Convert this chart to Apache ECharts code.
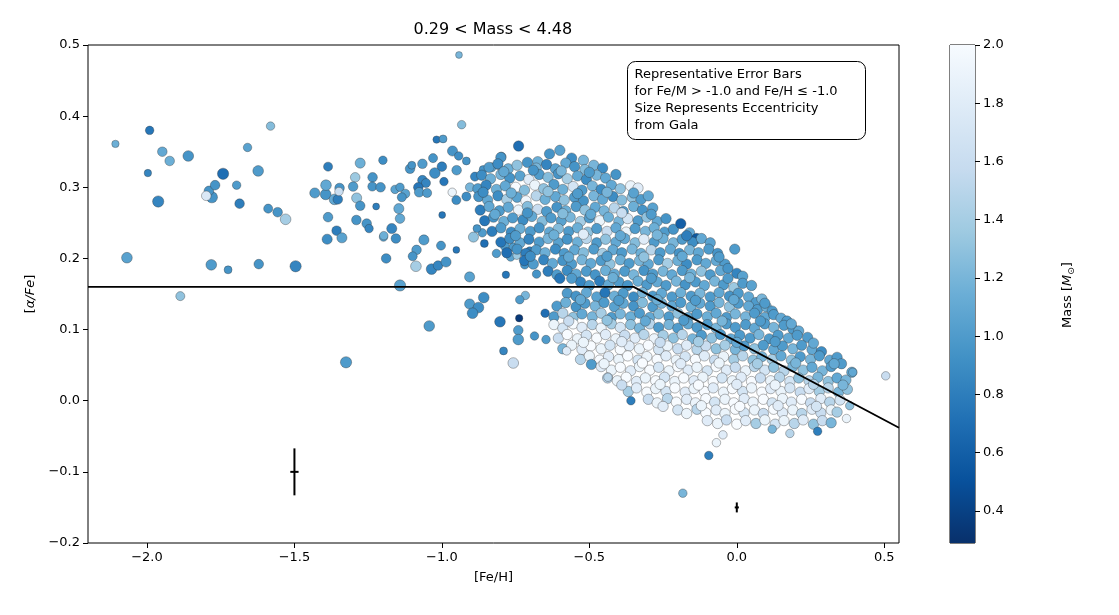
<!DOCTYPE html>
<html lang="en">
<head>
<meta charset="utf-8">
<title>[α/Fe] vs [Fe/H]</title>
<script src="https://cdn.jsdelivr.net/npm/echarts@6/dist/echarts.min.js"></script>
<style>
  html, body { margin: 0; padding: 0; background: #fff; }
  #chart { width: 1119px; height: 615px; }
</style>
</head>
<body>
<div id="chart"></div>
<script>
// [Fe/H], [alpha/Fe], mass, eccentricity  -- sparse metal-poor stars
var metalPoor = [
  [-2.107,0.361,1.15,0.4],[-1.991,0.380,0.75,0.5],[-1.948,0.350,1.1,0.6],[-1.923,0.337,1.15,0.6],
  [-1.860,0.344,0.95,0.7],[-1.997,0.320,0.85,0.4],[-1.962,0.280,0.85,0.75],[-1.780,0.286,0.95,0.75],
  [-1.790,0.295,0.95,0.6],[-1.799,0.288,1.75,0.6],[-1.769,0.303,0.95,0.6],[-1.742,0.319,0.7,0.75],
  [-1.696,0.303,1.0,0.5],[-1.686,0.277,0.8,0.6],[-1.659,0.356,1.05,0.5],[-1.581,0.386,1.25,0.5],
  [-1.623,0.323,1.0,0.7],[-1.589,0.270,0.95,0.55],[-1.557,0.265,0.95,0.6],[-1.530,0.255,1.4,0.7],
  [-2.068,0.201,1.05,0.7],[-1.782,0.191,1.0,0.7],[-1.725,0.184,0.95,0.45],[-1.621,0.192,0.95,0.6],
  [-1.496,0.189,0.85,0.75],[-1.887,0.147,1.3,0.55],
  [-1.431,0.292,1.0,0.65],[-1.394,0.290,0.95,0.7],[-1.393,0.303,1.1,0.7],[-1.386,0.329,0.8,0.55],
  [-1.364,0.283,1.1,0.7],[-1.353,0.283,0.8,0.6],[-1.347,0.299,0.95,0.6],[-1.349,0.294,1.6,0.5],
  [-1.277,0.334,1.15,0.65],[-1.294,0.314,1.35,0.6],[-1.301,0.301,1.0,0.6],[-1.289,0.285,1.3,0.65],
  [-1.277,0.274,0.95,0.6],[-1.235,0.314,0.95,0.6],[-1.236,0.301,0.95,0.55],[-1.208,0.300,0.95,0.6],
  [-1.200,0.338,0.9,0.5],[-1.223,0.273,0.8,0.35],[-1.386,0.258,1.0,0.6],[-1.290,0.254,0.95,0.6],
  [-1.255,0.249,0.95,0.6],[-1.247,0.242,0.85,0.5],[-1.357,0.239,0.8,0.6],[-1.389,0.227,0.9,0.65],
  [-1.339,0.229,1.05,0.65],[-1.198,0.230,1.05,0.5],[-1.189,0.200,0.9,0.6],
  [-0.933,0.388,1.25,0.5],[-1.018,0.367,0.75,0.4],[-0.996,0.368,1.0,0.45],[-0.739,0.358,0.8,0.45],
  [-1.108,0.326,0.95,0.6],[-1.102,0.331,0.95,0.45],[-1.066,0.333,1.0,0.6],[-1.030,0.341,0.95,0.55],
  [-1.000,0.329,0.8,0.6],[-0.964,0.351,0.95,0.65],[-0.943,0.344,0.9,0.5],[-0.917,0.337,0.95,0.45],
  [-1.024,0.320,0.9,0.7],[-0.950,0.324,1.0,0.6],[-0.993,0.308,0.75,0.5],[-1.066,0.310,0.85,0.6],
  [-1.054,0.306,0.85,0.55],[-1.080,0.300,0.75,0.6],[-1.077,0.293,1.0,0.6],[-1.050,0.292,1.0,0.55],
  [-1.159,0.297,1.05,0.5],[-1.142,0.300,1.0,0.5],[-1.124,0.291,1.05,0.55],[-1.136,0.286,0.95,0.55],
  [-1.146,0.270,1.1,0.65],[-1.142,0.256,1.1,0.6],[-1.170,0.242,0.85,0.65],[-1.156,0.228,0.9,0.6],
  [-1.197,0.232,1.15,0.5],[-1.142,0.162,1.05,0.75],[-1.061,0.226,1.0,0.65],[-1.086,0.212,1.0,0.6],
  [-1.099,0.203,0.95,0.55],[-1.088,0.189,1.4,0.7],[-1.035,0.185,0.85,0.7],[-1.013,0.190,0.85,0.6],
  [-0.986,0.195,0.95,0.65],[-1.003,0.218,0.95,0.55],[-0.951,0.212,0.75,0.35],[-0.999,0.261,0.75,0.35],
  [-0.965,0.293,1.9,0.5],[-0.951,0.282,0.9,0.55],[-0.917,0.287,0.9,0.55],[-0.905,0.300,1.2,0.55],
  [-0.906,0.174,1.05,0.65],[-0.888,0.315,0.85,0.55],[-0.860,0.325,0.95,0.45],[-0.798,0.343,0.9,0.55],
  [-0.831,0.328,1.1,0.55],[-0.809,0.331,1.05,0.5],[-0.893,0.230,1.3,0.65],[-0.863,0.236,1.0,0.5],
  [-0.856,0.221,0.7,0.45],[-0.881,0.242,0.95,0.45],[-0.815,0.207,1.0,0.5],[-0.786,0.217,1.0,0.55],
  [-0.758,0.216,1.0,0.5],[-0.767,0.202,1.05,0.5],[-0.746,0.204,1.35,0.45],[-0.719,0.191,0.95,0.5],
  [-0.783,0.177,0.75,0.4],[-0.679,0.178,0.95,0.5],[-0.702,0.210,0.8,0.55],
  [-0.906,0.136,1.0,0.65],[-0.876,0.131,0.9,0.7],[-0.896,0.123,0.9,0.7],[-0.858,0.145,0.9,0.7],
  [-1.043,0.105,1.0,0.7],[-0.803,0.111,0.75,0.7],[-0.738,0.116,0.35,0.4],[-0.741,0.099,1.0,0.6],
  [-0.741,0.086,1.0,0.7],[-0.791,0.070,0.85,0.45],[-0.758,0.053,1.6,0.7],[-0.686,0.091,0.95,0.5],
  [-0.717,0.148,1.2,0.5],[-0.736,0.142,1.0,0.5],[-0.650,0.123,0.7,0.5],[-0.647,0.086,1.0,0.5],
  [-0.942,0.486,1.2,0.35],[-1.325,0.054,1.0,0.75]
];

// [Fe/H], [alpha/Fe], mass -- high-alpha sequence
var upperCloud = [
  [-0.80,0.342,0.95],[-0.74,0.358,0.7],[-0.675,0.336,1.15],[-0.635,0.347,0.95],[-0.60,0.352,1.05],[-0.56,0.341,0.9],[-0.52,0.338,1.2],
  [-0.84,0.328,1.0],[-0.81,0.333,0.9],[-0.775,0.326,1.15],[-0.745,0.331,1.3],[-0.71,0.335,0.95],[-0.68,0.327,1.2],[-0.645,0.332,0.85],[-0.615,0.326,1.05],[-0.58,0.334,1.1],[-0.55,0.329,0.95],[-0.515,0.325,1.25],[-0.485,0.331,1.2],[-0.455,0.327,0.9],
  [-0.865,0.317,0.9],[-0.835,0.312,1.15],[-0.80,0.318,1.2],[-0.77,0.313,0.95],[-0.735,0.316,1.05],[-0.705,0.311,1.8],[-0.67,0.318,1.0],[-0.64,0.314,1.25],[-0.605,0.319,0.95],[-0.575,0.312,1.4],[-0.54,0.316,1.1],[-0.51,0.311,0.9],[-0.475,0.317,1.2],[-0.445,0.313,1.1],[-0.41,0.318,0.95],
  [-0.878,0.298,1.0],[-0.85,0.303,0.85],[-0.815,0.297,1.15],[-0.785,0.302,1.1],[-0.75,0.300,2.0],[-0.72,0.296,1.25],[-0.685,0.303,1.9],[-0.655,0.298,1.3],[-0.62,0.304,1.0],[-0.59,0.297,1.15],[-0.555,0.301,1.7],[-0.525,0.296,1.0],[-0.49,0.302,1.2],[-0.46,0.297,0.9],[-0.425,0.303,1.1],[-0.395,0.298,1.3],[-0.36,0.302,1.9],[-0.335,0.299,1.8],
  [-0.875,0.287,0.95],[-0.845,0.282,1.1],[-0.81,0.288,0.9],[-0.78,0.283,1.4],[-0.745,0.286,1.05],[-0.715,0.281,1.95],[-0.68,0.288,1.5],[-0.65,0.283,1.15],[-0.615,0.287,1.1],[-0.585,0.282,1.3],[-0.55,0.286,1.0],[-0.52,0.281,0.95],[-0.485,0.288,1.2],[-0.455,0.283,1.1],[-0.42,0.287,0.9],[-0.39,0.282,1.25],[-0.355,0.286,1.3],[-0.325,0.283,1.0],[-0.30,0.288,1.1],
  [-0.87,0.268,0.8],[-0.84,0.273,1.1],[-0.805,0.267,1.0],[-0.775,0.272,1.1],[-0.74,0.268,1.9],[-0.71,0.273,1.25],[-0.675,0.269,1.6],[-0.645,0.266,1.0],[-0.61,0.272,0.95],[-0.58,0.267,1.15],[-0.545,0.273,1.0],[-0.515,0.268,1.3],[-0.48,0.272,1.1],[-0.45,0.267,1.2],[-0.415,0.271,1.5],[-0.385,0.266,1.0],[-0.35,0.273,1.15],[-0.32,0.268,0.95],[-0.285,0.271,1.05],
  [-0.855,0.253,0.75],[-0.825,0.258,0.95],[-0.79,0.252,1.15],[-0.76,0.257,1.0],[-0.725,0.254,0.9],[-0.695,0.259,1.1],[-0.66,0.252,1.25],[-0.63,0.257,1.0],[-0.595,0.253,1.05],[-0.565,0.258,1.2],[-0.53,0.252,1.4],[-0.50,0.257,1.0],[-0.465,0.253,1.9],[-0.435,0.258,1.15],[-0.40,0.252,1.2],[-0.37,0.256,1.7],[-0.335,0.253,1.0],[-0.305,0.258,1.3],[-0.27,0.252,1.1],[-0.24,0.256,0.95],
  [-0.83,0.238,0.8],[-0.80,0.243,1.0],[-0.765,0.237,0.9],[-0.735,0.242,1.15],[-0.70,0.238,1.0],[-0.67,0.243,0.95],[-0.635,0.237,1.1],[-0.605,0.242,1.25],[-0.57,0.238,1.0],[-0.54,0.243,1.15],[-0.505,0.237,1.3],[-0.475,0.242,1.0],[-0.44,0.238,1.6],[-0.41,0.243,1.1],[-0.375,0.237,1.9],[-0.345,0.242,1.0],[-0.31,0.238,1.2],[-0.28,0.243,1.15],[-0.245,0.237,1.0],[-0.215,0.241,0.95],[-0.19,0.249,0.6],[-0.16,0.236,1.1],[-0.136,0.228,0.55],
  [-0.80,0.223,0.75],[-0.77,0.228,0.9],[-0.735,0.222,1.1],[-0.705,0.227,0.85],[-0.67,0.223,1.0],[-0.64,0.228,1.2],[-0.605,0.222,1.05],[-0.575,0.227,0.95],[-0.54,0.223,1.15],[-0.51,0.228,1.5],[-0.475,0.222,1.0],[-0.445,0.227,1.3],[-0.41,0.223,1.1],[-0.38,0.228,1.1],[-0.345,0.222,1.25],[-0.315,0.227,1.8],[-0.28,0.223,1.0],[-0.25,0.228,1.15],[-0.215,0.222,1.2],[-0.185,0.227,1.0],[-0.15,0.223,0.9],[-0.12,0.228,1.1],[-0.09,0.222,1.05],
  [-0.78,0.208,0.7],[-0.745,0.213,0.95],[-0.715,0.207,0.8],[-0.68,0.212,1.0],[-0.65,0.208,1.15],[-0.615,0.213,0.9],[-0.585,0.207,1.0],[-0.55,0.212,1.1],[-0.52,0.208,1.25],[-0.485,0.213,1.0],[-0.455,0.207,1.4],[-0.42,0.212,1.1],[-0.39,0.208,1.0],[-0.355,0.213,1.2],[-0.325,0.207,1.15],[-0.29,0.212,1.5],[-0.26,0.208,1.0],[-0.225,0.213,1.1],[-0.195,0.207,0.95],[-0.16,0.212,1.2],[-0.13,0.208,1.1],[-0.095,0.213,1.0],[-0.065,0.207,0.95],[-0.007,0.213,1.0],
  [-0.72,0.197,0.75],[-0.69,0.192,1.0],[-0.655,0.198,0.85],[-0.625,0.193,1.1],[-0.59,0.197,0.95],[-0.56,0.192,1.0],[-0.525,0.198,1.2],[-0.495,0.193,1.1],[-0.46,0.197,1.0],[-0.43,0.192,1.3],[-0.395,0.198,1.15],[-0.365,0.193,1.0],[-0.33,0.197,1.2],[-0.30,0.192,1.1],[-0.265,0.198,1.0],[-0.235,0.193,1.4],[-0.20,0.197,1.15],[-0.17,0.192,0.9],[-0.135,0.198,1.0],[-0.105,0.193,1.1],[-0.07,0.197,1.1],[-0.04,0.192,1.0],
  [-0.64,0.182,0.8],[-0.61,0.177,1.0],[-0.575,0.183,0.9],[-0.545,0.178,1.1],[-0.51,0.182,1.0],[-0.48,0.177,0.95],[-0.445,0.183,1.15],[-0.415,0.178,1.1],[-0.38,0.182,1.0],[-0.35,0.177,1.2],[-0.315,0.183,0.95],[-0.285,0.178,1.0],[-0.25,0.182,1.2],[-0.22,0.177,1.1],[-0.185,0.183,1.0],[-0.155,0.178,1.15],[-0.12,0.182,1.3],[-0.09,0.177,1.0],[-0.055,0.183,1.1],[-0.03,0.186,0.95],[0.0,0.179,0.85],[0.02,0.175,1.05],
  [-0.60,0.172,0.75],[-0.53,0.167,0.85],[-0.50,0.162,1.0],[-0.465,0.168,0.8],[-0.435,0.163,1.1],[-0.40,0.167,1.0],[-0.37,0.162,0.95],[-0.335,0.168,1.15],[-0.305,0.163,1.0],[-0.27,0.167,1.1],[-0.24,0.162,1.0],[-0.205,0.168,1.2],[-0.175,0.163,0.95],[-0.14,0.167,1.0],[-0.11,0.162,1.1],[-0.075,0.168,1.2],[-0.045,0.163,1.0],[-0.01,0.159,1.35],[0.02,0.165,1.0],[0.05,0.162,1.05],
  [-0.79,0.322,1.1],[-0.69,0.324,0.95],[-0.595,0.323,1.2],[-0.50,0.321,1.0],
  [-0.86,0.293,0.9],[-0.765,0.292,1.15],[-0.64,0.294,1.3],[-0.54,0.291,1.0],[-0.44,0.293,1.2],[-0.35,0.292,1.05],
  [-0.82,0.262,1.1],[-0.71,0.264,0.95],[-0.59,0.263,1.25],[-0.495,0.262,1.1],[-0.39,0.264,1.6],[-0.29,0.262,1.0],
  [-0.75,0.232,1.0],[-0.62,0.233,1.15],[-0.52,0.234,1.8],[-0.395,0.232,1.1],[-0.27,0.233,1.2],[-0.17,0.232,0.8],
  [-0.70,0.203,0.9],[-0.57,0.202,1.1],[-0.44,0.203,1.0],[-0.315,0.202,1.3],[-0.185,0.203,1.1],[-0.06,0.202,1.0],
  [-0.56,0.172,1.0],[-0.42,0.173,1.15],[-0.29,0.172,1.0],[-0.16,0.173,1.2],[-0.03,0.172,1.0]
];

// [Fe/H], [alpha/Fe], mass -- low-alpha sequence
var lowerCloud = [
  [-0.575,0.151,1.0],[-0.545,0.147,0.95],[-0.51,0.152,1.1],[-0.475,0.146,1.05],[-0.447,0.152,0.75],[-0.415,0.147,1.15],[-0.385,0.151,1.0],[-0.35,0.146,0.9],[-0.32,0.152,1.2],[-0.285,0.147,1.0],[-0.255,0.151,1.1],[-0.22,0.146,1.0],[-0.19,0.152,1.15],[-0.155,0.147,1.0],[-0.125,0.151,1.2],[-0.09,0.146,1.0],[-0.06,0.152,1.1],[-0.025,0.147,0.95],[0.005,0.151,1.0],[0.04,0.146,1.1],[0.065,0.138,1.0],[0.085,0.143,1.2],
  [-0.61,0.133,1.0],[-0.58,0.138,1.15],[-0.545,0.132,0.95],[-0.515,0.137,1.0],[-0.48,0.133,1.2],[-0.45,0.138,1.0],[-0.415,0.132,1.05],[-0.385,0.137,1.1],[-0.35,0.133,0.95],[-0.32,0.138,1.25],[-0.285,0.132,1.0],[-0.255,0.137,1.2],[-0.22,0.133,1.1],[-0.19,0.138,1.0],[-0.155,0.132,1.15],[-0.125,0.137,1.1],[-0.09,0.133,1.0],[-0.06,0.138,1.2],[-0.025,0.132,1.3],[0.005,0.137,1.0],[0.04,0.133,1.1],[0.07,0.128,1.0],[0.10,0.132,1.15],[0.12,0.126,1.0],
  [-0.62,0.118,1.0],[-0.59,0.123,1.5],[-0.555,0.117,1.3],[-0.525,0.122,1.1],[-0.49,0.118,1.2],[-0.46,0.123,1.4],[-0.425,0.117,1.0],[-0.395,0.122,1.2],[-0.36,0.118,1.15],[-0.33,0.123,1.0],[-0.295,0.117,1.1],[-0.265,0.122,1.25],[-0.23,0.118,1.0],[-0.20,0.123,1.3],[-0.165,0.117,1.1],[-0.135,0.122,1.0],[-0.10,0.118,1.15],[-0.07,0.123,1.1],[-0.035,0.117,1.0],[-0.005,0.122,1.2],[0.03,0.118,1.2],[0.06,0.123,1.0],[0.095,0.117,1.1],[0.125,0.121,1.0],[0.15,0.116,1.1],[0.17,0.112,1.0],
  [-0.62,0.107,1.9],[-0.59,0.102,1.7],[-0.555,0.108,2.0],[-0.525,0.103,1.8],[-0.49,0.107,1.5],[-0.46,0.102,1.9],[-0.425,0.108,1.4],[-0.395,0.103,1.7],[-0.36,0.107,1.3],[-0.33,0.102,1.2],[-0.295,0.108,1.5],[-0.265,0.103,1.0],[-0.23,0.107,1.2],[-0.20,0.102,1.0],[-0.165,0.108,1.1],[-0.135,0.103,1.0],[-0.10,0.107,1.0],[-0.07,0.102,1.2],[-0.035,0.108,1.0],[-0.005,0.103,1.0],[0.03,0.107,1.0],[0.06,0.102,1.1],[0.095,0.108,1.0],[0.125,0.103,1.2],[0.16,0.106,1.0],[0.19,0.101,1.0],[0.21,0.098,1.1],
  [-0.605,0.088,1.6],[-0.575,0.093,2.0],[-0.54,0.087,1.9],[-0.51,0.092,1.7],[-0.475,0.088,2.0],[-0.445,0.093,1.8],[-0.41,0.087,1.9],[-0.38,0.092,1.6],[-0.345,0.088,1.8],[-0.315,0.093,1.5],[-0.28,0.087,1.9],[-0.25,0.092,1.4],[-0.215,0.088,1.3],[-0.185,0.093,1.5],[-0.15,0.087,1.2],[-0.12,0.092,1.0],[-0.085,0.088,1.3],[-0.055,0.093,1.0],[-0.02,0.087,1.1],[0.01,0.092,1.0],[0.045,0.088,1.0],[0.075,0.093,1.2],[0.11,0.087,1.0],[0.14,0.092,1.0],[0.175,0.088,1.1],[0.205,0.092,1.0],[0.24,0.089,1.0],
  [-0.59,0.073,1.2],[-0.56,0.078,1.9],[-0.525,0.072,1.8],[-0.495,0.077,2.0],[-0.46,0.073,1.9],[-0.43,0.078,1.7],[-0.395,0.072,2.0],[-0.365,0.077,1.8],[-0.33,0.073,1.9],[-0.30,0.078,2.0],[-0.265,0.072,1.7],[-0.235,0.077,1.9],[-0.20,0.073,1.6],[-0.17,0.078,1.8],[-0.135,0.072,1.5],[-0.105,0.077,1.6],[-0.07,0.073,1.3],[-0.04,0.078,1.4],[-0.005,0.072,1.2],[0.025,0.077,1.0],[0.06,0.073,1.3],[0.09,0.078,1.0],[0.125,0.072,1.1],[0.155,0.077,1.0],[0.19,0.073,1.2],[0.22,0.078,1.0],[0.255,0.072,1.1],[0.287,0.069,0.9],
  [-0.53,0.058,1.5],[-0.50,0.063,1.9],[-0.465,0.057,2.0],[-0.435,0.062,1.8],[-0.40,0.058,1.9],[-0.37,0.063,2.0],[-0.335,0.057,1.7],[-0.305,0.062,1.9],[-0.27,0.058,2.0],[-0.24,0.063,1.8],[-0.205,0.057,1.9],[-0.175,0.062,1.7],[-0.14,0.058,2.0],[-0.11,0.063,1.8],[-0.075,0.057,1.6],[-0.045,0.062,1.9],[-0.01,0.058,1.4],[0.02,0.063,1.5],[0.055,0.057,1.3],[0.085,0.062,1.2],[0.12,0.058,1.4],[0.15,0.063,1.1],[0.185,0.057,1.3],[0.215,0.062,1.0],[0.25,0.058,1.2],[0.28,0.063,1.0],[0.315,0.057,1.1],[0.34,0.061,1.0],
  [-0.493,0.051,1.0],[-0.46,0.048,1.8],[-0.425,0.043,1.9],[-0.395,0.047,2.0],[-0.36,0.042,1.8],[-0.33,0.048,1.9],[-0.295,0.043,2.0],[-0.265,0.047,1.7],[-0.23,0.042,1.9],[-0.20,0.048,2.0],[-0.165,0.043,1.8],[-0.135,0.047,1.9],[-0.10,0.042,1.7],[-0.07,0.048,2.0],[-0.035,0.043,1.8],[-0.005,0.047,1.6],[0.03,0.042,1.9],[0.06,0.048,1.5],[0.095,0.043,1.7],[0.125,0.047,1.3],[0.16,0.042,1.5],[0.19,0.048,1.2],[0.225,0.043,1.3],[0.255,0.047,1.1],[0.29,0.042,1.2],[0.32,0.048,1.0],[0.355,0.052,1.0],[0.39,0.040,1.1],
  [-0.438,0.032,1.5],[-0.405,0.028,1.9],[-0.375,0.033,2.0],[-0.34,0.027,1.8],[-0.31,0.032,1.9],[-0.275,0.028,2.0],[-0.245,0.033,1.7],[-0.21,0.027,1.9],[-0.18,0.032,2.0],[-0.145,0.028,1.8],[-0.115,0.033,1.9],[-0.08,0.027,2.0],[-0.05,0.032,1.7],[-0.015,0.028,1.9],[0.015,0.033,1.8],[0.05,0.027,2.0],[0.08,0.032,1.6],[0.115,0.028,1.9],[0.145,0.033,1.5],[0.18,0.027,1.7],[0.21,0.032,1.3],[0.245,0.028,1.5],[0.275,0.033,1.2],[0.31,0.027,1.3],[0.34,0.032,1.1],[0.37,0.029,1.2],
  [-0.368,0.013,1.4],[-0.34,0.018,1.8],[-0.305,0.012,2.0],[-0.275,0.017,1.9],[-0.24,0.013,1.7],[-0.21,0.018,2.0],[-0.175,0.012,1.8],[-0.145,0.017,1.9],[-0.11,0.013,2.0],[-0.08,0.018,1.8],[-0.045,0.012,1.9],[-0.015,0.017,2.0],[0.02,0.013,1.7],[0.05,0.018,1.9],[0.085,0.012,2.0],[0.115,0.017,1.8],[0.15,0.013,1.9],[0.18,0.018,1.7],[0.215,0.012,1.6],[0.245,0.017,1.8],[0.28,0.013,1.4],[0.31,0.018,1.5],[0.345,0.012,1.2],[0.375,0.016,1.3],
  [-0.30,0.002,1.6],[-0.27,-0.003,1.9],[-0.235,0.003,1.5],[-0.205,-0.002,2.0],[-0.17,0.002,1.8],[-0.14,-0.003,1.9],[-0.105,0.003,2.0],[-0.075,-0.002,1.7],[-0.04,0.002,1.9],[-0.01,-0.003,2.0],[0.025,0.003,1.8],[0.055,-0.002,1.9],[0.09,0.002,2.0],[0.12,-0.003,1.7],[0.155,0.003,1.9],[0.185,-0.002,1.8],[0.22,0.002,2.0],[0.25,-0.003,1.6],[0.285,0.003,1.8],[0.315,-0.002,1.5],[0.35,0.001,1.7],
  [-0.20,-0.013,1.7],[-0.17,-0.018,1.9],[-0.135,-0.012,1.5],[-0.105,-0.017,2.0],[-0.07,-0.013,1.8],[-0.04,-0.018,1.9],[-0.005,-0.012,2.0],[0.025,-0.017,1.7],[0.06,-0.013,1.9],[0.09,-0.018,1.6],[0.125,-0.012,2.0],[0.155,-0.017,1.8],[0.19,-0.013,1.9],[0.22,-0.018,1.5],[0.255,-0.012,1.8],[0.285,-0.017,1.6],[0.32,-0.013,1.9],[0.34,-0.016,1.4],
  [-0.10,-0.028,1.8],[-0.065,-0.032,1.9],[-0.035,-0.027,1.6],[0.0,-0.033,2.0],[0.03,-0.028,1.8],[0.065,-0.032,1.4],[0.095,-0.027,1.9],[0.13,-0.033,1.7],[0.16,-0.028,1.9],[0.195,-0.032,1.5],[0.225,-0.027,1.8],[0.26,-0.033,1.3],[0.29,-0.028,1.6],[0.32,-0.031,1.2],
  [-0.53,0.142,1.1],[-0.40,0.141,1.0],[-0.27,0.142,1.15],[-0.14,0.141,1.0],[-0.01,0.142,1.1],[0.095,0.137,1.0],
  [-0.57,0.112,1.6],[-0.44,0.113,1.3],[-0.31,0.112,1.1],[-0.18,0.113,1.0],[-0.05,0.112,1.2],[0.08,0.112,1.0],[0.185,0.108,1.1],
  [-0.52,0.082,1.9],[-0.39,0.083,1.8],[-0.26,0.082,1.6],[-0.13,0.083,1.4],[0.0,0.082,1.1],[0.13,0.083,1.0],[0.26,0.081,1.1],
  [-0.45,0.052,1.9],[-0.32,0.053,2.0],[-0.19,0.052,1.8],[-0.06,0.053,1.9],[0.07,0.052,1.4],[0.20,0.053,1.2],[0.33,0.052,1.1],
  [-0.39,0.022,1.6],[-0.26,0.023,1.9],[-0.13,0.022,2.0],[0.0,0.023,1.8],[0.13,0.022,1.9],[0.26,0.023,1.5],[0.36,0.022,1.2],
  [-0.25,-0.008,1.8],[-0.12,-0.007,1.9],[0.01,-0.008,2.0],[0.14,-0.007,1.8],[0.27,-0.008,1.7]
];

// [Fe/H], [alpha/Fe], mass -- stragglers around the dense cloud
var strays = [
  [-0.069,-0.059,1.9],[-0.047,-0.048,1.8],[0.12,-0.040,1.2],[0.18,-0.046,1.5],[0.274,-0.043,0.8],
  [0.372,-0.025,1.9],[0.383,-0.007,1.3],[0.393,0.040,1.1],[0.505,0.035,1.6],[-0.095,-0.077,0.8],
  [-0.183,-0.130,1.2],[-0.359,0.000,0.8],[-0.437,0.033,1.5],[-0.577,0.070,1.8]
];
var cloudEcc = 0.67;

// separating line between sequences
var cutFeH = [-2.2, -0.35, 0.55];
var cutAlpha = [0.16, 0.16, -0.038];

// representative error bars: [Fe/H], [alpha/Fe], err Fe/H, err alpha/Fe
var errBars = [[-1.5, -0.1, 0.014, 0.033], [0.0, -0.15, 0.007, 0.007]];

var xTicks = [-2.0, -1.5, -1.0, -0.5, 0.0, 0.5];
var massTicks = [0.4, 0.6, 0.8, 1.0, 1.2, 1.4, 1.6, 1.8, 2.0];
var massRange = [0.29, 2.0];

// matplotlib Blues, reversed
var bluesR = ['#08306b', '#08519c', '#2171b5', '#4292c6', '#6baed6', '#9ecae1', '#c6dbef', '#deebf7', '#f7fbff'];

var FONT = 'DejaVu Sans';

function fmt(v) {
  var s = Math.abs(v) < 1e-9 ? '0.0' : v.toFixed(1);
  return s.replace('-', '\u2212');
}

var pts = [];
metalPoor.forEach(function (p) { pts.push([p[0], p[1], p[2], p[3]]); });
upperCloud.forEach(function (p) { pts.push([p[0], p[1], p[2], cloudEcc]); });
lowerCloud.forEach(function (p) { pts.push([p[0], p[1], p[2], cloudEcc]); });
strays.forEach(function (p) { pts.push([p[0], p[1], p[2], 0.5]); });

var cutLine = cutFeH.map(function (x, i) { return [x, cutAlpha[i]]; });

var stops = bluesR.map(function (c, i) { return { offset: i / (bluesR.length - 1), color: c }; });

var chart = echarts.init(document.getElementById('chart'));

var option = {
  animation: false,
  textStyle: { fontFamily: FONT },
  grid: [
    { left: 88, top: 45, width: 811, height: 498, show: true, borderColor: '#000', borderWidth: 1 },
    { left: 950, top: 45, width: 25, height: 498, show: true, borderColor: '#000', borderWidth: 1 }
  ],
  xAxis: [
    {
      type: 'value', gridIndex: 0, min: -2.2, max: 0.55,
      name: '[Fe/H]', nameLocation: 'middle', nameGap: 28,
      nameTextStyle: { color: '#000', fontSize: 13, fontFamily: FONT },
      axisLine: { show: false, onZero: false },
      axisTick: { show: true, inside: false, length: 5, customValues: xTicks, lineStyle: { color: '#000' } },
      axisLabel: { customValues: xTicks, formatter: fmt, color: '#000', fontSize: 13, margin: 8, fontFamily: FONT },
      splitLine: { show: false }
    },
    { type: 'value', gridIndex: 1, min: 0, max: 1, show: false }
  ],
  yAxis: [
    {
      type: 'value', gridIndex: 0, min: -0.2, max: 0.5, interval: 0.1,
      name: '[{i|α/Fe}]', nameLocation: 'middle', nameGap: 50, nameRotate: 90,
      nameTextStyle: { color: '#000', fontSize: 13, fontFamily: FONT,
        rich: { i: { fontStyle: 'italic', fontSize: 13, fontFamily: FONT, color: '#000' } } },
      axisLine: { show: false, onZero: false },
      axisTick: { show: true, inside: false, length: 5, lineStyle: { color: '#000' } },
      axisLabel: { formatter: fmt, color: '#000', fontSize: 13, margin: 8, fontFamily: FONT },
      splitLine: { show: false }
    },
    {
      type: 'value', gridIndex: 1, position: 'right', min: massRange[0], max: massRange[1],
      axisLine: { show: false, onZero: false },
      axisTick: { show: true, inside: false, length: 5, customValues: massTicks, lineStyle: { color: '#000' } },
      axisLabel: { customValues: massTicks, formatter: function (v) { return v.toFixed(1); }, color: '#000', fontSize: 13, margin: 8, fontFamily: FONT },
      splitLine: { show: false }
    }
  ],
  visualMap: {
    type: 'continuous', show: false, seriesIndex: 0, dimension: 2,
    min: massRange[0], max: massRange[1], inRange: { color: bluesR }
  },
  series: [
    {
      type: 'scatter', xAxisIndex: 0, yAxisIndex: 0,
      data: pts,
      progressive: 0,
      symbolSize: function (v) { return 3 + 11 * v[3]; },
      itemStyle: { borderColor: 'rgba(50,50,50,0.6)', borderWidth: 0.6, opacity: 1 },
      emphasis: { disabled: true },
      z: 2
    },
    {
      type: 'line', xAxisIndex: 0, yAxisIndex: 0,
      data: cutLine, symbol: 'none', silent: true,
      lineStyle: { color: '#000', width: 1.8 },
      z: 5
    },
    {
      type: 'custom', xAxisIndex: 0, yAxisIndex: 0,
      data: errBars, encode: { x: 0, y: 1 }, silent: true, z: 6,
      renderItem: function (params, api) {
        var x = api.value(0), y = api.value(1), ex = api.value(2), ey = api.value(3);
        var t = api.coord([x, y + ey]), b = api.coord([x, y - ey]);
        var l = api.coord([x - ex, y]), r = api.coord([x + ex, y]);
        return {
          type: 'group', children: [
            { type: 'line', shape: { x1: t[0], y1: t[1], x2: b[0], y2: b[1] }, style: { stroke: '#000', lineWidth: 2 } },
            { type: 'line', shape: { x1: l[0], y1: l[1], x2: r[0], y2: r[1] }, style: { stroke: '#000', lineWidth: 2 } }
          ]
        };
      }
    },
    {
      type: 'custom', xAxisIndex: 1, yAxisIndex: 1,
      data: [massRange], encode: { y: [0, 1] }, silent: true,
      renderItem: function (params, api) {
        var top = api.coord([0, api.value(1)]);
        var bot = api.coord([1, api.value(0)]);
        return {
          type: 'rect',
          shape: { x: top[0], y: top[1], width: bot[0] - top[0], height: bot[1] - top[1] },
          style: { fill: { type: 'linear', x: 0, y: 1, x2: 0, y2: 0, colorStops: stops } }
        };
      }
    }
  ],
  graphic: [
    {
      type: 'text', left: 493.5 - 80, top: 22,
      style: { text: '0.29 < Mass < 4.48', fill: '#000', font: '16px "DejaVu Sans"', width: 160, align: 'center' }
    },
    {
      type: 'group', left: 627, top: 61, z: 100,
      children: [
        { type: 'rect', shape: { x: 0, y: 0, width: 238, height: 78, r: 8 }, style: { fill: '#fff', stroke: '#000', lineWidth: 1 } },
        { type: 'text', x: 7, y: 4.5,
          style: { text: 'Representative Error Bars\nfor Fe/M > -1.0 and Fe/H \u2264 -1.0\nSize Represents Eccentricity\nfrom Gala',
            fill: '#000', font: '13px "DejaVu Sans"', lineHeight: 17 } }
      ]
    },
    {
      type: 'text', x: 1068, y: 295, rotation: Math.PI / 2,
      style: {
        text: 'Mass [{i|M}{s|\u2299}]', fill: '#000', font: '13px "DejaVu Sans"',
        align: 'center', verticalAlign: 'middle',
        rich: { i: { fontStyle: 'italic', fontSize: 13, fontFamily: FONT }, s: { fontSize: 9, fontFamily: FONT, padding: [7, 0, 0, 0] } }
      }
    }
  ]
};

chart.setOption(option);
</script>
</body>
</html>
